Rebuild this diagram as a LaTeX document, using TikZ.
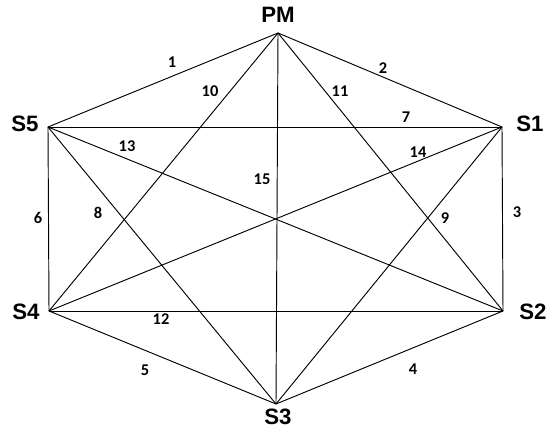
\documentclass[tikz,border=0pt]{standalone}
\usepackage{fontspec}
\newfontfamily\labfont{Liberation Sans}
\newfontfamily\numfont{Carlito}
\tikzset{
  edge/.style={line width=0.8pt},
  vlab/.style={font=\labfont\bfseries\fontsize{19}{19}\selectfont, inner sep=0pt},
  num/.style={font=\numfont\bfseries\fontsize{14}{14}\selectfont, inner sep=0pt}
}

\begin{document}
\begin{tikzpicture}[x=0.03cm, y=-0.03cm]
 \useasboundingbox (0,0) rectangle (553,428);

 %vertices:
 \coordinate (PM) at (278,33);
 \coordinate (S1) at (502,127);
 \coordinate (S2) at (503,311);
 \coordinate (S3) at (276,404);
 \coordinate (S4) at (49,311);
 \coordinate (S5) at (48,127);

 %vertex labels
 \node[vlab] (tPM) at (278,15) {PM};
 \node[vlab] (tS1) at (530,124) {S1};
 \node[vlab] (tS2) at (533,312) {S2};
 \node[vlab] (tS3) at (278,417) {S3};
 \node[vlab] (tS4) at (26,312) {S4};
 \node[vlab] (tS5) at (25,124) {S5};

 %outer edges
 \draw[edge] (PM) -- (S1) -- (S2) -- (S3) -- (S4) -- (S5) -- cycle;
 %inner edges
 \draw[edge] (S5) -- (S1);
 \draw[edge] (S5) -- (S3);
 \draw[edge] (S1) -- (S3);
 \draw[edge] (PM) -- (S4);
 \draw[edge] (PM) -- (S2);
 \draw[edge] (S4) -- (S2);
 \draw[edge] (S5) -- (S2);
 \draw[edge] (S1) -- (S4);
 \draw[edge] (PM) -- (S3);

 %edge numbers
 \node[num] (n1) at (172,62) {1};
 \node[num] (n2) at (383,68) {2};
 \node[num] (n3) at (517,212) {3};
 \node[num] (n4) at (413,369) {4};
 \node[num] (n5) at (145,370) {5};
 \node[num] (n6) at (38,218) {6};
 \node[num] (n7) at (406,117) {7};
 \node[num] (n8) at (98,213) {8};
 \node[num] (n9) at (445,218) {9};
 \node[num] (n10) at (210,91) {10};
 \node[num] (n11) at (340,91) {11};
 \node[num] (n12) at (161,319) {12};
 \node[num] (n13) at (127,146) {13};
 \node[num] (n14) at (418,152) {14};
 \node[num] (n15) at (262,179) {15};
\end{tikzpicture}
\end{document}
